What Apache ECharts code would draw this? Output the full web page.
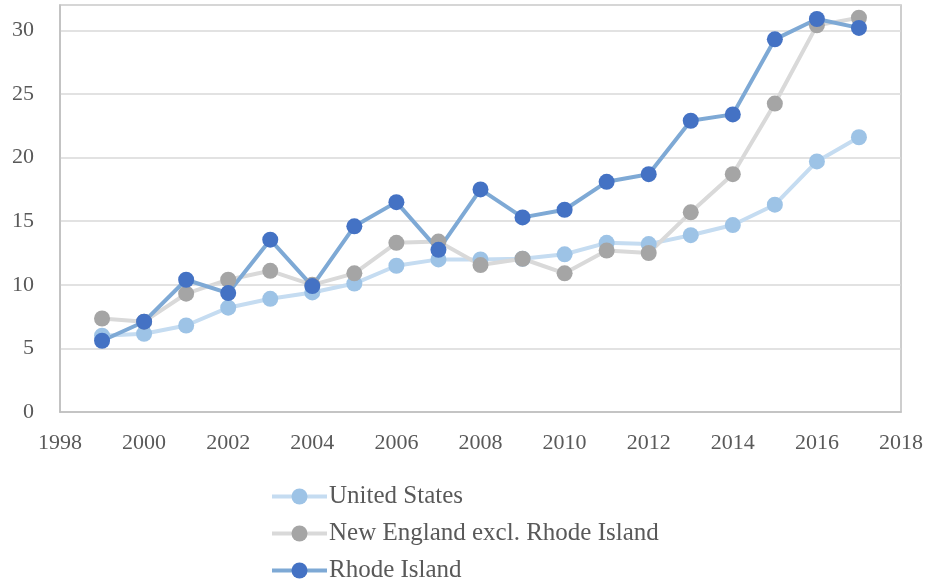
<!DOCTYPE html>
<html>
<head>
<meta charset="utf-8">
<script src="https://cdn.jsdelivr.net/npm/echarts@6/dist/echarts.min.js"></script>
<style>
  html, body { margin: 0; padding: 0; background: #fff; }
  #chart { width: 928px; height: 583px; }
</style>
</head>
<body>
<div id="chart"></div>
<script>
// data
var years = [1999, 2000, 2001, 2002, 2003, 2004, 2005, 2006, 2007, 2008,
             2009, 2010, 2011, 2012, 2013, 2014, 2015, 2016, 2017];
var unitedStates = [6.0, 6.15, 6.8, 8.2, 8.9, 9.4, 10.1, 11.5, 12.0, 12.0,
                    12.05, 12.4, 13.3, 13.2, 13.9, 14.7, 16.3, 19.7, 21.6];
var newEngland = [7.35, 7.1, 9.3, 10.4, 11.1, 10.0, 10.9, 13.3, 13.4, 11.55,
                  12.05, 10.9, 12.7, 12.5, 15.7, 18.7, 24.25, 30.4, 31.0];
var rhodeIsland = [5.6, 7.1, 10.4, 9.35, 13.55, 9.9, 14.6, 16.5, 12.75, 17.5,
                   15.3, 15.9, 18.1, 18.7, 22.9, 23.4, 29.3, 30.9, 30.2];
var seriesNames = ["United States", "New England excl. Rhode Island", "Rhode Island"];

function pairs(vals) {
  return years.map(function (y, i) { return [y, vals[i]]; });
}

var myChart = echarts.init(document.getElementById("chart"));
var fontFamily = "'Liberation Serif', serif";

var option = {
  animation: false,
  textStyle: { fontFamily: fontFamily },
  grid: {
    left: 60, right: 27, top: 5, bottom: 171,
    show: true, borderColor: "#BFBFBF", borderWidth: 1.5
  },
  legend: {
    orient: "vertical",
    left: 265,
    top: 479,
    height: 110,
    itemWidth: 55,
    itemHeight: 20,
    itemGap: 12,
    lineStyle: { width: 4 },
    textStyle: { fontSize: 25, color: "#595959", fontFamily: fontFamily, padding: [0, 0, 0, -3] },
    data: seriesNames
  },
  xAxis: {
    type: "value",
    min: 1998,
    max: 2018,
    interval: 2,
    axisLine: { show: true, lineStyle: { color: "#BFBFBF", width: 1.5 } },
    axisTick: { show: false },
    splitLine: { show: false },
    axisLabel: {
      color: "#595959", fontSize: 22, margin: 20, fontFamily: fontFamily,
      formatter: function (v) { return String(v); }
    }
  },
  yAxis: {
    type: "value",
    min: 0,
    max: 32,
    interval: 5,
    axisLine: { show: true, lineStyle: { color: "#BFBFBF", width: 1.5 } },
    axisTick: { show: false },
    splitLine: { lineStyle: { color: "#D9D9D9", width: 1.5 } },
    axisLabel: {
      color: "#595959", fontSize: 22, margin: 26, fontFamily: fontFamily,
      showMaxLabel: false
    }
  },
  series: [
    {
      name: seriesNames[0],
      type: "line",
      data: pairs(unitedStates),
      symbol: "circle",
      symbolSize: 16,
      lineStyle: { color: "#C5DCF1", width: 4 },
      itemStyle: { color: "#9DC3E6", borderWidth: 0 }
    },
    {
      name: seriesNames[1],
      type: "line",
      data: pairs(newEngland),
      symbol: "circle",
      symbolSize: 16,
      lineStyle: { color: "#D9D9D9", width: 4 },
      itemStyle: { color: "#A5A5A5", borderWidth: 0 }
    },
    {
      name: seriesNames[2],
      type: "line",
      data: pairs(rhodeIsland),
      symbol: "circle",
      symbolSize: 16,
      lineStyle: { color: "#7EA9D5", width: 4 },
      itemStyle: { color: "#4472C4", borderWidth: 0 }
    }
  ]
};

myChart.setOption(option);
</script>
</body>
</html>
